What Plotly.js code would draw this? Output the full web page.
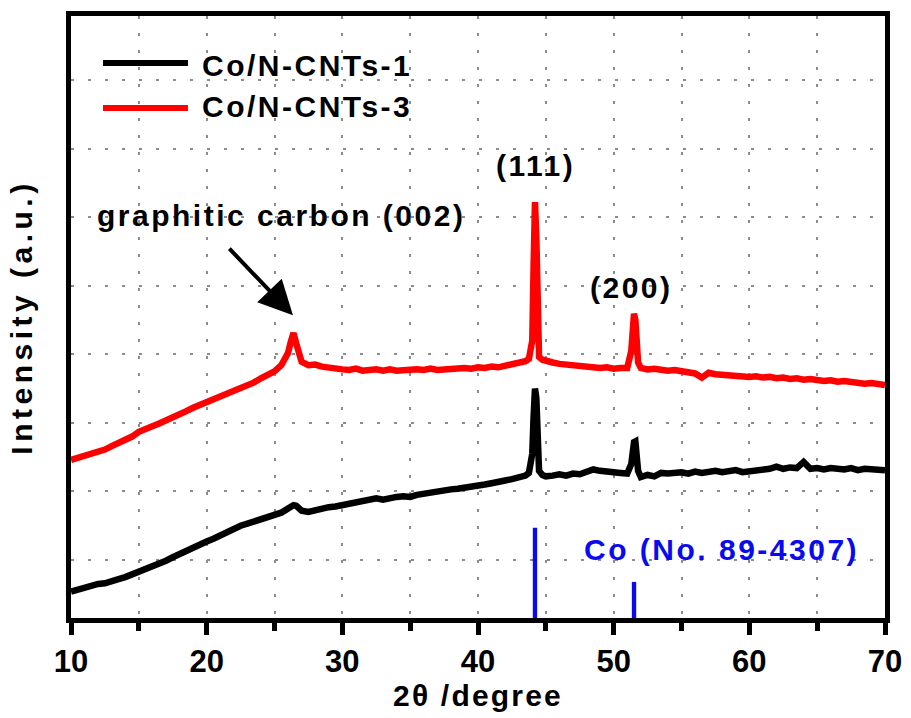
<!DOCTYPE html>
<html>
<head>
<meta charset="utf-8">
<script src="https://cdn.plot.ly/plotly-3.0.1.min.js"></script>
<style>
  html, body { margin: 0; padding: 0; background: #fff; }
  #chart { width: 911px; height: 718px; }
  /* wide character spacing used by the labels on this figure */
  .annotation-text { letter-spacing: 2.5px; }
  .xtitle { letter-spacing: 2.2px; }
  .ytitle { letter-spacing: 4.5px; }
</style>
</head>
<body>
<div id="chart"></div>
<script>
// 2-theta positions (degree)
const twoTheta = [
  10.0, 10.5, 11.0, 11.5, 12.0, 12.5, 13.0, 13.5, 14.0, 14.5,
  15.0, 15.5, 16.0, 16.5, 17.0, 17.5, 18.0, 18.5, 19.0, 19.5,
  20.0, 20.5, 21.0, 21.5, 22.0, 22.5, 23.0, 23.5, 24.0, 24.5,
  25.0, 25.5, 25.75, 26.0, 26.2, 26.4, 26.6, 26.8, 27.0, 27.5,
  28.0, 28.5, 29.0, 29.5, 30.0, 30.5, 31.0, 31.5, 32.0, 32.5,
  33.0, 33.5, 34.0, 34.5, 35.0, 35.5, 36.0, 36.5, 37.0, 37.5,
  38.0, 38.5, 39.0, 39.5, 40.0, 40.5, 41.0, 41.5, 42.0, 42.5,
  43.0, 43.5, 43.75, 44.0, 44.1, 44.2, 44.3, 44.4, 44.5, 44.75,
  45.0, 45.5, 46.0, 46.5, 47.0, 47.5, 48.0, 48.5, 49.0, 49.5,
  50.0, 50.5, 51.0, 51.3, 51.4, 51.5, 51.6, 51.7, 51.8, 52.0,
  52.5, 53.0, 53.5, 54.0, 54.5, 55.0, 55.5, 56.0, 56.5, 57.0,
  57.5, 58.0, 58.5, 59.0, 59.5, 60.0, 60.5, 61.0, 61.5, 62.0,
  62.5, 63.0, 63.5, 64.0, 64.5, 65.0, 65.5, 66.0, 66.5, 67.0,
  67.5, 68.0, 68.5, 69.0, 69.5, 70.0
];

// Co/N-CNTs-1 intensity (a.u.)
const cnt1 = [
  0.54, 0.57, 0.59, 0.62, 0.65, 0.66, 0.70, 0.72, 0.75, 0.79,
  0.82, 0.85, 0.89, 0.93, 0.99, 1.04, 1.09, 1.14, 1.19, 1.23,
  1.27, 1.31, 1.36, 1.41, 1.45, 1.50, 1.53, 1.56, 1.59, 1.62,
  1.65, 1.69, 1.72, 1.75, 1.78, 1.80, 1.79, 1.75, 1.72, 1.70,
  1.73, 1.74, 1.77, 1.78, 1.80, 1.83, 1.85, 1.86, 1.89, 1.90,
  1.88, 1.91, 1.92, 1.93, 1.92, 1.95, 1.97, 1.98, 2.00, 2.02,
  2.03, 2.04, 2.05, 2.07, 2.09, 2.10, 2.12, 2.13, 2.16, 2.18,
  2.20, 2.23, 2.27, 2.55, 3.10, 3.50, 3.36, 2.70, 2.30, 2.24,
  2.22, 2.23, 2.25, 2.23, 2.26, 2.25, 2.28, 2.32, 2.30, 2.28,
  2.28, 2.27, 2.26, 2.40, 2.62, 2.72, 2.73, 2.55, 2.30, 2.21,
  2.24, 2.22, 2.27, 2.26, 2.28, 2.28, 2.26, 2.29, 2.27, 2.28,
  2.30, 2.28, 2.29, 2.31, 2.28, 2.29, 2.31, 2.32, 2.33, 2.36,
  2.33, 2.35, 2.34, 2.43, 2.33, 2.34, 2.32, 2.34, 2.33, 2.32,
  2.34, 2.31, 2.33, 2.32, 2.31, 2.31
];

// Co/N-CNTs-3 intensity (a.u.)
const cnt3 = [
  2.46, 2.49, 2.51, 2.55, 2.58, 2.61, 2.66, 2.70, 2.76, 2.80,
  2.87, 2.90, 2.95, 2.99, 3.03, 3.09, 3.13, 3.17, 3.22, 3.26,
  3.29, 3.33, 3.37, 3.41, 3.45, 3.50, 3.55, 3.59, 3.65, 3.69,
  3.75, 3.84, 3.92, 4.02, 4.18, 4.31, 4.16, 3.98, 3.89, 3.84,
  3.85, 3.82, 3.80, 3.79, 3.78, 3.77, 3.79, 3.76, 3.77, 3.78,
  3.76, 3.78, 3.76, 3.77, 3.76, 3.78, 3.77, 3.79, 3.77, 3.78,
  3.79, 3.78, 3.80, 3.79, 3.81, 3.80, 3.82, 3.81, 3.83, 3.84,
  3.86, 3.90, 3.93, 4.20, 5.30, 6.22, 5.70, 4.40, 3.96, 3.92,
  3.90, 3.88, 3.86, 3.85, 3.84, 3.82, 3.83, 3.81, 3.80, 3.81,
  3.79, 3.80, 3.80, 4.05, 4.40, 4.59, 4.50, 4.15, 3.88, 3.80,
  3.78, 3.79, 3.77, 3.76, 3.77, 3.75, 3.74, 3.72, 3.66, 3.73,
  3.71, 3.70, 3.71, 3.69, 3.68, 3.67, 3.68, 3.66, 3.67, 3.65,
  3.66, 3.64, 3.65, 3.63, 3.64, 3.62, 3.61, 3.62, 3.60, 3.61,
  3.59, 3.58, 3.57, 3.58, 3.56, 3.55
];

// Co reference pattern (No. 89-4307): peak positions and stick heights
const coRefPos = [44.2, 51.5];
const coRefHeight = [1.47, 0.68];

const xTickVals = [10, 20, 30, 40, 50, 60, 70];
const xTickText = ['10', '20', '30', '40', '50', '60', '70'];

const FONT = 'Arial, "Liberation Sans", Helvetica, sans-serif';
const gridStyle = { gridcolor: '#8c8c8c', gridwidth: 2, griddash: '3px,14px' };

const traces = [
  {
    type: 'bar', x: coRefPos, y: coRefHeight, base: 0, width: 0.32,
    marker: { color: '#0a0af0', line: { width: 0 } },
    name: 'Co (No. 89-4307)', showlegend: false, hoverinfo: 'x'
  },
  {
    type: 'scatter', mode: 'lines', x: twoTheta, y: cnt1,
    line: { color: '#000000', width: 6.5 }, name: 'Co/N-CNTs-1', showlegend: false
  },
  {
    type: 'scatter', mode: 'lines', x: twoTheta, y: cnt3,
    line: { color: '#ff0000', width: 6.5 }, name: 'Co/N-CNTs-3', showlegend: false
  }
];

const txt = (size, color) => ({ family: FONT, size: size, color: color || '#000', weight: 700 });

const layout = {
  width: 911, height: 718,
  margin: { l: 71, r: 26, t: 16, b: 100 },
  paper_bgcolor: '#ffffff', plot_bgcolor: '#ffffff',
  showlegend: false,
  xaxis: Object.assign({
    range: [10, 70], tickmode: 'array', tickvals: xTickVals, ticktext: xTickText,
    ticks: 'outside', ticklen: 12, tickwidth: 5, tickcolor: '#000',
    showline: true, linewidth: 5, linecolor: '#000', mirror: true,
    showgrid: true, zeroline: false,
    tickfont: txt(31),
    minor: Object.assign({ dtick: 5, tick0: 0, ticks: 'outside', ticklen: 8, tickwidth: 5, tickcolor: '#000', showgrid: true }, gridStyle),
    title: { text: '2θ /degree', font: txt(30), standoff: 8 }
  }, gridStyle),
  yaxis: Object.assign({
    range: [0.154, 8.933], tick0: 0, dtick: 1,
    ticks: '', showticklabels: false,
    showline: true, linewidth: 5, linecolor: '#000', mirror: true,
    showgrid: true, zeroline: false,
    title: { text: 'Intensity (a.u.)', font: txt(30), standoff: 26 }
  }, gridStyle),
  shapes: [
    { type: 'line', xref: 'paper', yref: 'paper', x0: 0.0393, x1: 0.1437, y0: 0.922, y1: 0.922,
      line: { color: '#000', width: 6 } },
    { type: 'line', xref: 'paper', yref: 'paper', x0: 0.0393, x1: 0.1437, y0: 0.847, y1: 0.847,
      line: { color: '#ff0000', width: 6 } }
  ],
  annotations: [
    { xref: 'paper', yref: 'paper', x: 0.1585, y: 0.917, xanchor: 'left', yanchor: 'middle',
      text: 'Co/N-CNTs-1', showarrow: false, font: txt(30) },
    { xref: 'paper', yref: 'paper', x: 0.1585, y: 0.850, xanchor: 'left', yanchor: 'middle',
      text: 'Co/N-CNTs-3', showarrow: false, font: txt(30) },
    { x: 25.48, y: 6.02, text: 'graphitic carbon (002)', showarrow: false, font: txt(30) },
    { x: 26.36, y: 4.57, text: '', showarrow: true, ax: -65, ay: -68,
      arrowhead: 2, arrowsize: 1.7, arrowwidth: 4, arrowcolor: '#000' },
    { x: 44.27, y: 6.75, text: '(111)', showarrow: false, font: txt(30) },
    { x: 51.34, y: 4.98, text: '(200)', showarrow: false, font: txt(30) },
    { x: 47.66, y: 1.16, xanchor: 'left', text: 'Co (No. 89-4307)', showarrow: false, font: txt(30, '#0a0af0') }
  ]
};

Plotly.newPlot('chart', traces, layout, { staticPlot: true, displayModeBar: false });
</script>
</body>
</html>
